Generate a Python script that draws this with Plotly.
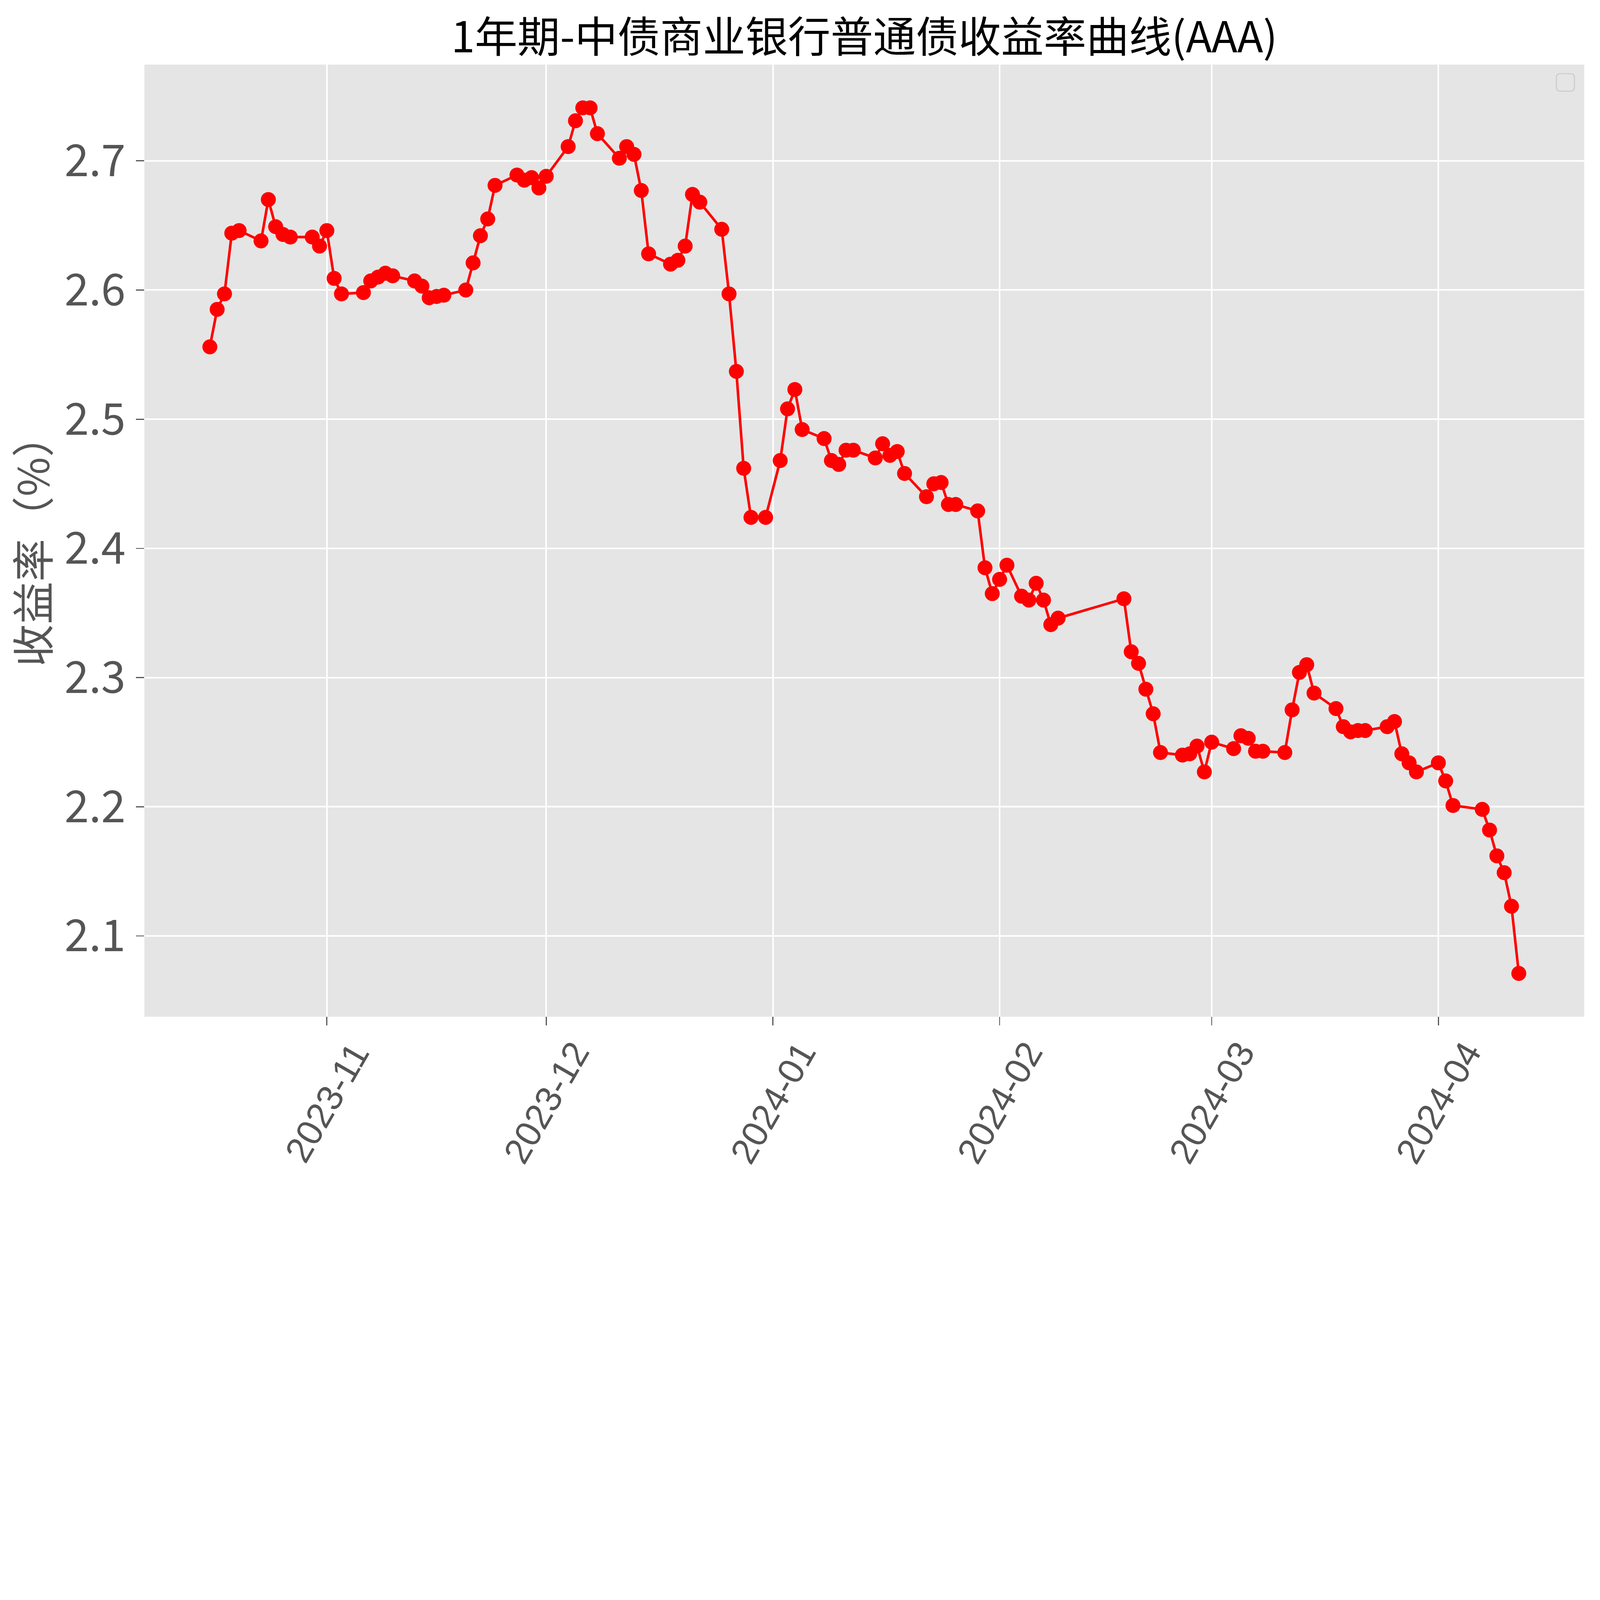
import pandas as pd
import plotly.graph_objects as go

# ---- data ----
dates = [
    "2023-10-16", "2023-10-17", "2023-10-18", "2023-10-19", "2023-10-20",
    "2023-10-23", "2023-10-24", "2023-10-25", "2023-10-26", "2023-10-27",
    "2023-10-30", "2023-10-31", "2023-11-01", "2023-11-02", "2023-11-03",
    "2023-11-06", "2023-11-07", "2023-11-08", "2023-11-09", "2023-11-10",
    "2023-11-13", "2023-11-14", "2023-11-15", "2023-11-16", "2023-11-17",
    "2023-11-20", "2023-11-21", "2023-11-22", "2023-11-23", "2023-11-24",
    "2023-11-27", "2023-11-28", "2023-11-29", "2023-11-30", "2023-12-01",
    "2023-12-04", "2023-12-05", "2023-12-06", "2023-12-07", "2023-12-08",
    "2023-12-11", "2023-12-12", "2023-12-13", "2023-12-14", "2023-12-15",
    "2023-12-18", "2023-12-19", "2023-12-20", "2023-12-21", "2023-12-22",
    "2023-12-25", "2023-12-26", "2023-12-27", "2023-12-28", "2023-12-29",
    "2023-12-31", "2024-01-02", "2024-01-03", "2024-01-04", "2024-01-05",
    "2024-01-08", "2024-01-09", "2024-01-10", "2024-01-11", "2024-01-12",
    "2024-01-15", "2024-01-16", "2024-01-17", "2024-01-18", "2024-01-19",
    "2024-01-22", "2024-01-23", "2024-01-24", "2024-01-25", "2024-01-26",
    "2024-01-29", "2024-01-30", "2024-01-31", "2024-02-01", "2024-02-02",
    "2024-02-04", "2024-02-05", "2024-02-06", "2024-02-07", "2024-02-08",
    "2024-02-09", "2024-02-18", "2024-02-19", "2024-02-20", "2024-02-21",
    "2024-02-22", "2024-02-23", "2024-02-26", "2024-02-27", "2024-02-28",
    "2024-02-29", "2024-03-01", "2024-03-04", "2024-03-05", "2024-03-06",
    "2024-03-07", "2024-03-08", "2024-03-11", "2024-03-12", "2024-03-13",
    "2024-03-14", "2024-03-15", "2024-03-18", "2024-03-19", "2024-03-20",
    "2024-03-21", "2024-03-22", "2024-03-25", "2024-03-26", "2024-03-27",
    "2024-03-28", "2024-03-29", "2024-04-01", "2024-04-02", "2024-04-03",
    "2024-04-07", "2024-04-08", "2024-04-09", "2024-04-10", "2024-04-11",
    "2024-04-12",
]

yields = [
    2.556, 2.585, 2.597, 2.644, 2.646,
    2.638, 2.670, 2.649, 2.643, 2.641,
    2.641, 2.634, 2.646, 2.609, 2.597,
    2.598, 2.607, 2.610, 2.613, 2.611,
    2.607, 2.603, 2.594, 2.595, 2.596,
    2.600, 2.621, 2.642, 2.655, 2.681,
    2.689, 2.685, 2.687, 2.679, 2.688,
    2.711, 2.731, 2.741, 2.741, 2.721,
    2.702, 2.711, 2.705, 2.677, 2.628,
    2.620, 2.623, 2.634, 2.674, 2.668,
    2.647, 2.597, 2.537, 2.462, 2.424,
    2.424, 2.468, 2.508, 2.523, 2.492,
    2.485, 2.468, 2.465, 2.476, 2.476,
    2.470, 2.481, 2.472, 2.475, 2.458,
    2.440, 2.450, 2.451, 2.434, 2.434,
    2.429, 2.385, 2.365, 2.376, 2.387,
    2.363, 2.360, 2.373, 2.360, 2.341,
    2.346, 2.361, 2.320, 2.311, 2.291,
    2.272, 2.242, 2.240, 2.241, 2.247,
    2.227, 2.250, 2.245, 2.255, 2.253,
    2.243, 2.243, 2.242, 2.275, 2.304,
    2.310, 2.288, 2.276, 2.262, 2.258,
    2.259, 2.259, 2.262, 2.266, 2.241,
    2.234, 2.227, 2.234, 2.220, 2.201,
    2.198, 2.182, 2.162, 2.149, 2.123,
    2.071,
]

x_tick_dates = ["2023-11-01", "2023-12-01", "2024-01-01",
                "2024-02-01", "2024-03-01", "2024-04-01"]
x_tick_labels = ["2023-11", "2023-12", "2024-01",
                 "2024-02", "2024-03", "2024-04"]
y_tick_values = [2.1, 2.2, 2.3, 2.4, 2.5, 2.6, 2.7]
y_tick_labels = ["2.1", "2.2", "2.3", "2.4", "2.5", "2.6", "2.7"]

title_text = "1年期-中债商业银行普通债收益率曲线(AAA)"
y_label = "收益率（%）"

# ---- axis ranges with 5% padding (matplotlib-like autoscale) ----
d = pd.to_datetime(pd.Series(dates))
span = d.max() - d.min()
x_range = [(d.min() - 0.05 * span).strftime("%Y-%m-%d %H:%M:%S"),
           (d.max() + 0.05 * span).strftime("%Y-%m-%d %H:%M:%S")]
ymin, ymax = min(yields), max(yields)
yspan = ymax - ymin
y_range = [ymin - 0.05 * yspan, ymax + 0.05 * yspan]

W, H = 6194, 4574
ML, MR, MT, MB = 559, 61, 250, 638
CJK = "Noto Sans CJK SC"
LAT = "Liberation Sans"
GREY = "#555555"
pw, ph = W - ML - MR, H - MT - MB

fig = go.Figure()
fig.add_trace(go.Scatter(
    x=dates, y=yields, mode="lines+markers",
    line=dict(color="#FF0000", width=10),
    marker=dict(color="#FF0000", size=58),
    showlegend=False,
))

# rotated month labels under the x axis (centred under each tick, 60 degrees)
label_center_y = -(4268 - (MT + ph)) / ph
for td, tl in zip(x_tick_dates, x_tick_labels):
    fig.add_annotation(
        x=td, xref="x", y=label_center_y, yref="paper",
        text=tl, textangle=-60, showarrow=False,
        xanchor="center", yanchor="middle",
        font=dict(family=LAT, size=140, color=GREY),
    )

# empty legend frame (matplotlib draws an empty legend box at upper right)
def px(x):
    return (x - ML) / pw
def py(y):
    return 1 - (y - MT) / ph
lx0, lx1, ly0, ly1, rr = 6025, 6095, 285, 353, 16
path = (f"M {px(lx0+rr)},{py(ly0)} L {px(lx1-rr)},{py(ly0)} "
        f"Q {px(lx1)},{py(ly0)} {px(lx1)},{py(ly0+rr)} "
        f"L {px(lx1)},{py(ly1-rr)} Q {px(lx1)},{py(ly1)} {px(lx1-rr)},{py(ly1)} "
        f"L {px(lx0+rr)},{py(ly1)} Q {px(lx0)},{py(ly1)} {px(lx0)},{py(ly1-rr)} "
        f"L {px(lx0)},{py(ly0+rr)} Q {px(lx0)},{py(ly0)} {px(lx0+rr)},{py(ly0)} Z")
fig.add_shape(type="path", path=path, xref="paper", yref="paper",
              line=dict(color="#CCCCCC", width=4), fillcolor="#E5E5E5", layer="above")

fig.update_layout(
    width=W, height=H,
    margin=dict(l=ML, r=MR, t=MT, b=MB, autoexpand=False),
    paper_bgcolor="white", plot_bgcolor="#E5E5E5",
    font=dict(family=CJK, color=GREY),
    title=dict(text=title_text, x=0.5, xref="paper", xanchor="center",
               y=1 - 145 / H, yref="container", yanchor="middle",
               font=dict(family=CJK, size=165, color="black")),
    showlegend=False,
)

fig.update_xaxes(
    type="date", range=x_range,
    tickmode="array", tickvals=x_tick_dates, showticklabels=False,
    ticks="outside", ticklen=32, tickwidth=4, tickcolor=GREY,
    showgrid=True, gridcolor="white", gridwidth=6,
    zeroline=False, showline=False, automargin=False,
)
fig.update_yaxes(
    range=y_range,
    tickmode="array", tickvals=y_tick_values, ticktext=y_tick_labels,
    ticks="outside", ticklen=32, tickwidth=4, tickcolor=GREY,
    tickfont=dict(family=CJK, size=170, color=GREY),
    ticklabelstandoff=6,
    showgrid=True, gridcolor="white", gridwidth=6,
    zeroline=False, showline=False, automargin=False,
    title=dict(text=y_label, font=dict(family=CJK, size=165, color=GREY), standoff=14),
)

# keep the whole fixed-size figure inside the browser viewport
fit_script = """
(function(){
  var gd = document.getElementById('{plot_id}');
  document.documentElement.style.margin = '0';
  document.body.style.margin = '0';
  document.documentElement.style.overflow = 'hidden';
  document.body.style.overflow = 'hidden';
  function fit(){
    var s = Math.min(window.innerWidth / 6194, window.innerHeight / 4574);
    if (s > 1) { s = 1; }
    gd.style.transformOrigin = '0 0';
    gd.style.transform = 'scale(' + s + ')';
  }
  fit();
  window.addEventListener('resize', fit);
})();
"""

fig.write_html("out.html", config={"displayModeBar": False}, post_script=fit_script)
